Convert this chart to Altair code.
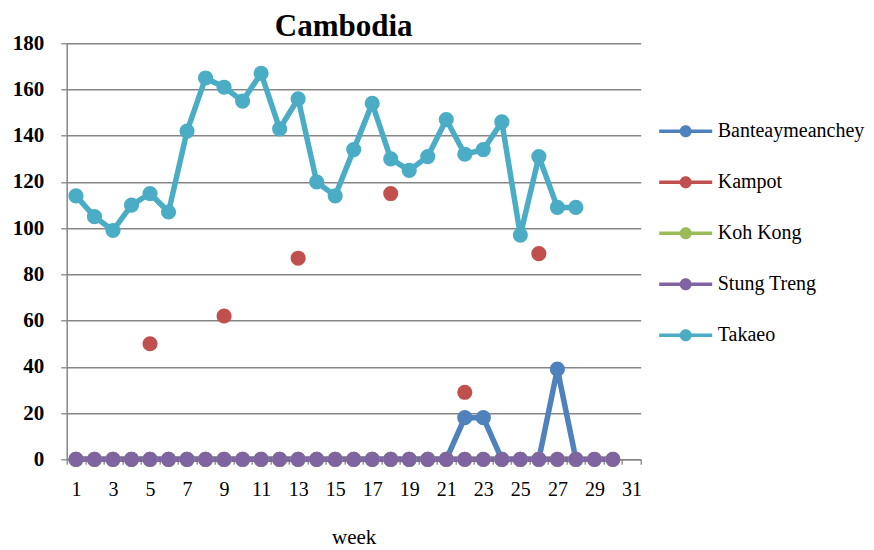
import altair as alt
import pandas as pd

weeks = list(range(1, 31))
series_names = ["Banteaymeanchey", "Kampot", "Koh Kong", "Stung Treng", "Takaeo"]
colors = ["#4F81BD", "#C0504D", "#9BBB59", "#8064A2", "#4BACC6"]

banteay = [0] * 21 + [18, 18, 0, 0, 0, 39, 0]                      # weeks 1-28
kampot = {5: 50, 9: 62, 13: 87, 18: 115, 22: 29, 26: 89}
kohkong = [0] * 30
stungtreng = [0] * 30
takaeo = [114, 105, 99, 110, 115, 107, 142, 165, 161, 155, 167, 143, 156, 120,
          114, 134, 154, 130, 125, 131, 147, 132, 134, 146, 97, 131, 109, 109]

y_ticks = list(range(0, 181, 20))
x_label_weeks = list(range(1, 32, 2))
x_bounds = [w + 0.5 for w in range(0, 32)]

rows = []
for i, v in enumerate(banteay):
    rows.append({"week": i + 1, "value": v, "series": "Banteaymeanchey", "ord": 0})
for w, v in kampot.items():
    rows.append({"week": w, "value": v, "series": "Kampot", "ord": 1})
for i, v in enumerate(kohkong):
    rows.append({"week": i + 1, "value": v, "series": "Koh Kong", "ord": 2})
for i, v in enumerate(stungtreng):
    rows.append({"week": i + 1, "value": v, "series": "Stung Treng", "ord": 3})
for i, v in enumerate(takaeo):
    rows.append({"week": i + 1, "value": v, "series": "Takaeo", "ord": 4})
df = pd.DataFrame(rows)

FONT = "Liberation Serif"
GRAY = "#868686"

xscale = alt.Scale(domain=[0.5, 31.5], nice=False, zero=False)
yscale = alt.Scale(domain=[0, 180], nice=False)
sscale = alt.Scale(domain=series_names, range=colors)

# line-with-dot legend glyph, filled shape (two bars + a disc)
glyph = ("M -1.5 -0.1 L -0.3 -0.1 L -0.3 0.1 L -1.5 0.1 Z "
         "M 0.3 -0.1 L 1.5 -0.1 L 1.5 0.1 L 0.3 0.1 Z "
         "M 0.34 0 A 0.34 0.34 0 1 1 -0.34 0 A 0.34 0.34 0 1 1 0.34 0 Z")

legend = alt.Legend(
    title=None,
    orient="none",
    legendX=601,
    legendY=70,
    direction="vertical",
    symbolType=glyph,
    symbolSize=1250,
    symbolStrokeWidth=0,
    symbolOpacity=1,
    labelFont=FONT,
    labelFontSize=20,
    labelColor="#000000",
    labelOffset=14,
    labelLimit=300,
    rowPadding=23,
    padding=0,
    offset=0,
)

x_enc = alt.X(
    "week:Q",
    scale=xscale,
    axis=alt.Axis(
        title="week",
        values=sorted(x_bounds + x_label_weeks),
        labelExpr="(datum.value % 2 == 1) ? ('' + datum.value) : ''",
        labelOverlap=False,
        labelFlush=False,
        labelFont=FONT,
        labelFontSize=20,
        labelColor="#000000",
        labelBaseline="alphabetic",
        labelPadding=31,
        tickSize=5,
        tickColor=GRAY,
        tickWidth=1.3,
        tickOpacity={"condition": {"test": "datum.value % 1 != 0", "value": 1}, "value": 0},
        grid=False,
        domainColor=GRAY,
        domainWidth=1.5,
        titleFont=FONT,
        titleFontSize=21,
        titleFontWeight="normal",
        titleColor="#000000",
        titleBaseline="alphabetic",
        titleY=84,
        titleX=287,
        titleAlign="center",
    ),
)

y_enc = alt.Y(
    "value:Q",
    scale=yscale,
    axis=alt.Axis(
        title=None,
        values=y_ticks,
        labelFont=FONT,
        labelFontSize=21,
        labelFontWeight="bold",
        labelColor="#000000",
        labelPadding=17,
        tickSize=6,
        tickColor=GRAY,
        tickWidth=1.3,
        grid=True,
        gridColor=GRAY,
        gridWidth=1.5,
        domainColor=GRAY,
        domainWidth=1.5,
    ),
)

lines = alt.Chart(df).transform_filter("datum.series != 'Kampot'").mark_line(
    strokeWidth=5.5, strokeJoin="round"
).encode(
    x=x_enc, y=y_enc,
    color=alt.Color("series:N", scale=sscale, legend=None),
    order=alt.Order("week:Q"),
    detail="series:N",
)

points = alt.Chart(df).mark_circle(size=230, opacity=1).encode(
    x=x_enc, y=y_enc,
    color=alt.Color("series:N", scale=sscale, legend=legend),
    order=alt.Order("ord:Q"),
)

chart = alt.layer(lines, points).resolve_legend(color="independent").properties(
    width=574,
    height=416,
    autosize="none",
    padding={"left": 58.7, "top": 35.3, "right": 225.3, "bottom": 90.7},
    title=alt.TitleParams(
        "Cambodia", font=FONT, fontSize=31, fontWeight="bold", color="#000000",
        anchor="middle", dx=-10, offset=-11, frame="group",
    ),
).configure(background="white").configure_view(stroke=None)

chart.save("out.html", embed_options={"renderer": "svg", "actions": False})
